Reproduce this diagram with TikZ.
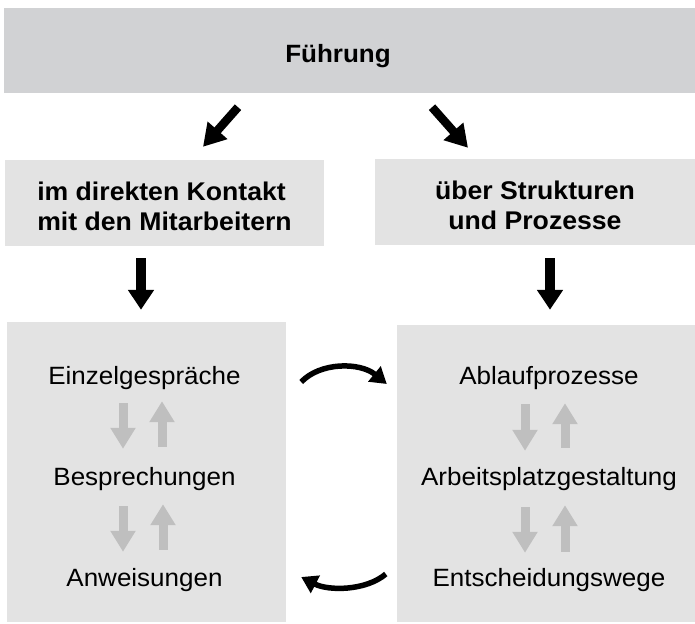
\documentclass[tikz,border=0pt]{standalone}
\usepackage{fontspec}
\newfontfamily\diafont{Liberation Sans}[FakeStretch=1.04]
\usetikzlibrary{arrows.meta,calc}
\definecolor{topgray}{HTML}{D1D2D4}
\definecolor{boxgray}{HTML}{E3E3E3}
\definecolor{arrgray}{HTML}{BFBFBF}
\begin{document}
\begin{tikzpicture}[x=1pt,y=-1pt,
  font=\diafont\fontsize{25pt}{30pt}\selectfont,
  boldtext/.style={font=\diafont\bfseries\fontsize{25pt}{30pt}\selectfont},
  topbox/.style={fill=topgray, draw=none, inner sep=0pt, minimum width=691pt,
    text height=55pt, text depth=30pt, boldtext},
  midbox/.style={fill=boxgray, draw=none, inner sep=0pt, minimum height=86pt,
    font=\diafont\bfseries\fontsize{25.6pt}{30pt}\selectfont},
  lowbox/.style={fill=boxgray, draw=none, inner sep=0pt},
  item/.style={inner sep=0pt, anchor=base, text height=18pt, text depth=6pt},
  bigarrow/.style={draw=black, line width=8.5pt, -{Triangle[width=25pt,length=22pt]}},
  downarrow/.style={draw=black, line width=10pt, -{Triangle[width=25pt,length=20pt]}},
  grayarrow/.style={draw=arrgray, line width=9pt, -{Triangle[width=24pt,length=21pt]}},
  bendarrow/.style={draw=black, line width=5.5pt, -{Triangle[width=19pt,length=16pt]}}
]
\useasboundingbox (0,0) rectangle (695,623);

% boxes
\node[topbox] (top) at (349.5,50.5) {Führung\hspace*{23pt}};
\node[midbox, minimum width=319pt, align=left] (m1) at (164.5,203)
  {\rule{0pt}{26pt}im direkten Kontakt\\mit den Mitarbeitern};
\node[midbox, minimum width=320pt, align=center] (m2) at (535,202)
  {\rule{0pt}{26pt}über Strukturen\\und Prozesse};
\node[lowbox, minimum width=279pt, minimum height=300pt] (l1) at (146.5,472) {};
\node[lowbox, minimum width=298pt, minimum height=297pt] (l2) at (546,473.5) {};

% items
\node[item] (e1) at (144.5,384) {Einzelgespräche};
\node[item] (e2) at (144.5,485) {Besprechungen};
\node[item] (e3) at (144.5,586) {Anweisungen};
\node[item] (r1) at (549,384) {Ablaufprozesse};
\node[item] (r2) at (549,485) {Arbeitsplatzgestaltung};
\node[item] (r3) at (549,586) {Entscheidungswege};

% black arrows
\draw[bigarrow] ([xshift=-111.5pt,yshift=-14pt]top.south) -- ([xshift=38.5pt,yshift=13pt]m1.north);
\draw[bigarrow] ([xshift=82.5pt,yshift=-14pt]top.south) -- ([xshift=-67pt,yshift=11pt]m2.north);
\draw[downarrow] ([xshift=-23.5pt,yshift=-12pt]m1.south) -- ([xshift=-5.5pt,yshift=12pt]l1.north);
\draw[downarrow] ([xshift=15pt,yshift=-13pt]m2.south) -- ([xshift=4pt,yshift=15pt]l2.north);

% gray arrows left
\draw[grayarrow] ([xshift=-21.5pt,yshift=-13pt]e1.south) -- ([xshift=-21.5pt,yshift=18pt]e2.north);
\draw[grayarrow] ([xshift=17.5pt,yshift=20pt]e2.north) -- ([xshift=17.5pt,yshift=-11pt]e1.south);
\draw[grayarrow] ([xshift=-21.5pt,yshift=-15pt]e2.south) -- ([xshift=-21.5pt,yshift=16pt]e3.north);
\draw[grayarrow] ([xshift=18.5pt,yshift=18pt]e3.north) -- ([xshift=18.5pt,yshift=-13pt]e2.south);
% gray arrows right
\draw[grayarrow] ([xshift=-24pt,yshift=-14pt]r1.south) -- ([xshift=-24pt,yshift=16pt]r2.north);
\draw[grayarrow] ([xshift=16pt,yshift=19pt]r2.north) -- ([xshift=16pt,yshift=-13pt]r1.south);
\draw[grayarrow] ([xshift=-24pt,yshift=-16pt]r2.south) -- ([xshift=-24pt,yshift=15pt]r3.north);
\draw[grayarrow] ([xshift=16pt,yshift=16pt]r3.north) -- ([xshift=16pt,yshift=-14pt]r2.south);

% bent arrows
\draw[bendarrow] ([xshift=15pt,yshift=90pt]l1.east) .. controls +(19,-20) and +(-27,-22) .. ([xshift=-10pt,yshift=89.5pt]l2.west);
\draw[bendarrow] ([xshift=-11pt,yshift=-100.5pt]l2.west) .. controls +(-20,17) and +(27,14) .. ([xshift=15pt,yshift=-105pt]l1.east);
\end{tikzpicture}
\end{document}
